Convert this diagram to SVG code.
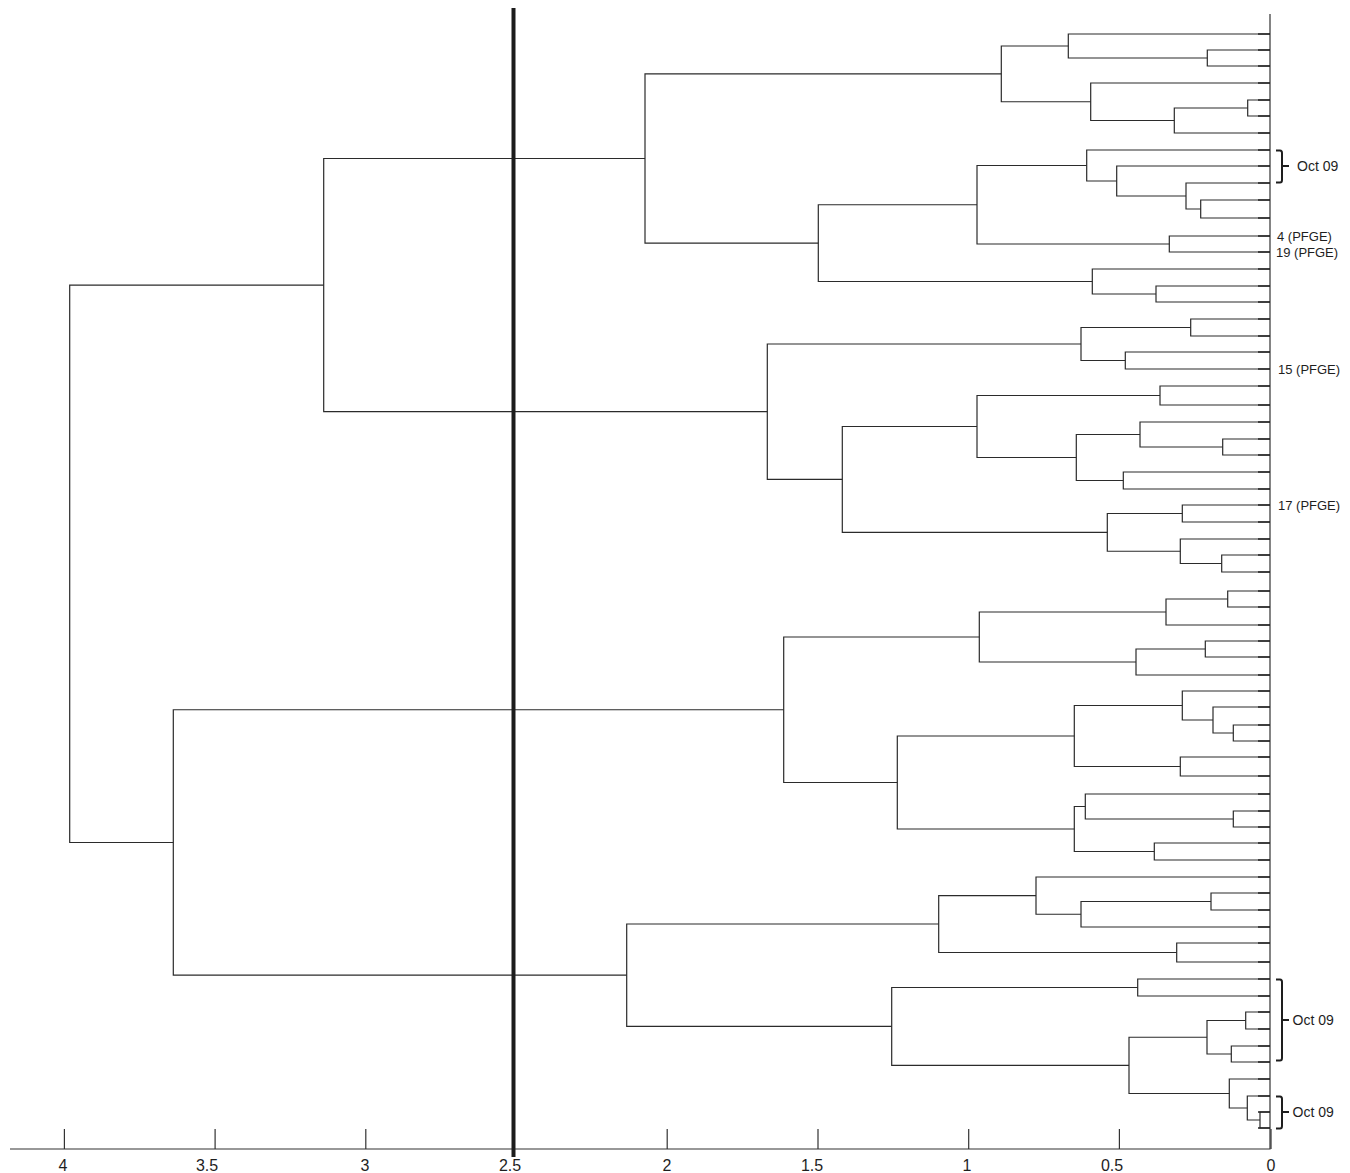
<svg xmlns="http://www.w3.org/2000/svg" width="1350" height="1173" viewBox="0 0 1350 1173">
<style>
.br{fill:none;stroke:#2b2b2b;stroke-width:1.2}
.ax{fill:none;stroke:#333;stroke-width:1.2}
.lt{fill:none;stroke:#222;stroke-width:1.6}
.brk{fill:none;stroke:#1e1e1e;stroke-width:2}
.lab{font-family:"Liberation Sans",Arial,sans-serif;font-size:13px;fill:#1e1e1e}
.oct{font-family:"Liberation Sans",Arial,sans-serif;font-size:14px;fill:#1e1e1e}
.tl{font-family:"Liberation Sans",Arial,sans-serif;font-size:16px;fill:#1e1e1e;text-anchor:middle}
</style>
<rect width="1350" height="1173" fill="#fff"/>
<g id="axis">
<path class="ax" d="M10,1149H1270V14"/>
<path class="ax" d="M64.4,1129V1149M215.1,1129V1149M365.8,1129V1149M667.2,1129V1149M818,1129V1149M968.7,1129V1149M1119.4,1129V1149M1271,1129V1149"/>
<text class="tl" x="63" y="1171">4</text>
<text class="tl" x="207" y="1171">3.5</text>
<text class="tl" x="365" y="1171">3</text>
<text class="tl" x="510" y="1171">2.5</text>
<text class="tl" x="667" y="1171">2</text>
<text class="tl" x="812" y="1171">1.5</text>
<text class="tl" x="967" y="1171">1</text>
<text class="tl" x="1112" y="1171">0.5</text>
<text class="tl" x="1271" y="1171">0</text>
</g>
<g id="connectors">
<path class="br" d="M1270,50H1207.3V66H1270"/>
<path class="br" d="M1270,34H1068.3V58H1207.3"/>
<path class="br" d="M1270,100H1247.7V116H1270"/>
<path class="br" d="M1247.7,108H1174.3V133H1270"/>
<path class="br" d="M1270,83H1090.7V120.5H1174.3"/>
<path class="br" d="M1068.3,46H1001.3V101.75H1090.7"/>
<path class="br" d="M1270,200H1200.7V218H1270"/>
<path class="br" d="M1270,183H1186V209H1200.7"/>
<path class="br" d="M1270,166H1116.7V196H1186"/>
<path class="br" d="M1270,150H1086.7V181H1116.7"/>
<path class="br" d="M1270,236H1169.3V252H1270"/>
<path class="br" d="M1086.7,165.5H977V244H1169.3"/>
<path class="br" d="M1270,286H1156V302H1270"/>
<path class="br" d="M1270,269H1092.3V294H1156"/>
<path class="br" d="M977,204.75H818.3V281.5H1092.3"/>
<path class="br" d="M1001.3,73.9H645V243.1H818.3"/>
<path class="br" d="M1270,319H1190.7V336H1270"/>
<path class="br" d="M1270,352H1125.3V369H1270"/>
<path class="br" d="M1190.7,327.5H1081V360.5H1125.3"/>
<path class="br" d="M1270,386H1160V405H1270"/>
<path class="br" d="M1270,439H1222.7V455H1270"/>
<path class="br" d="M1270,422H1140V447H1222.7"/>
<path class="br" d="M1270,472H1123.3V489H1270"/>
<path class="br" d="M1140,434.5H1076.3V480.5H1123.3"/>
<path class="br" d="M1160,395.5H977V457.5H1076.3"/>
<path class="br" d="M1270,505H1182.3V522H1270"/>
<path class="br" d="M1270,555H1221.7V572H1270"/>
<path class="br" d="M1270,539H1180.3V563.5H1221.7"/>
<path class="br" d="M1182.3,513.5H1107.3V551.25H1180.3"/>
<path class="br" d="M977,426.5H842.3V532.4H1107.3"/>
<path class="br" d="M1081,344H767.3V479.4H842.3"/>
<path class="br" d="M645,158.5H323.7V411.7H767.3"/>
<path class="br" d="M1270,591H1227.7V607H1270"/>
<path class="br" d="M1227.7,599H1166V625H1270"/>
<path class="br" d="M1270,641H1205.3V657H1270"/>
<path class="br" d="M1205.3,649H1136V675H1270"/>
<path class="br" d="M1166,612H979.3V662H1136"/>
<path class="br" d="M1270,725H1233.3V741H1270"/>
<path class="br" d="M1270,707H1213V733H1233.3"/>
<path class="br" d="M1270,691H1182.3V720H1213"/>
<path class="br" d="M1270,757H1180.3V776H1270"/>
<path class="br" d="M1182.3,705.5H1074.3V766.5H1180.3"/>
<path class="br" d="M1270,811H1233.3V827H1270"/>
<path class="br" d="M1270,794H1085.3V819H1233.3"/>
<path class="br" d="M1270,843H1154.3V860H1270"/>
<path class="br" d="M1085.3,806.5H1074.3V851.5H1154.3"/>
<path class="br" d="M1074.3,736H897.3V829H1074.3"/>
<path class="br" d="M979.3,637H783.7V782.5H897.3"/>
<path class="br" d="M1270,893H1211V910H1270"/>
<path class="br" d="M1211,901.5H1081V927H1270"/>
<path class="br" d="M1270,877H1036V914.25H1081"/>
<path class="br" d="M1270,943H1176.7V962H1270"/>
<path class="br" d="M1036,895.6H938.7V952.5H1176.7"/>
<path class="br" d="M1270,979H1137.7V996H1270"/>
<path class="br" d="M1270,1012H1245.7V1029H1270"/>
<path class="br" d="M1270,1046H1231.3V1062H1270"/>
<path class="br" d="M1245.7,1020.5H1207V1054H1231.3"/>
<path class="br" d="M1270,1112H1260V1128H1270"/>
<path class="br" d="M1270,1096H1247.3V1120H1260"/>
<path class="br" d="M1270,1079H1229.3V1108H1247.3"/>
<path class="br" d="M1207,1037.25H1129V1093.5H1229.3"/>
<path class="br" d="M1137.7,987.5H891.7V1065.4H1129"/>
<path class="br" d="M938.7,924H626.7V1026.4H891.7"/>
<path class="br" d="M783.7,709.75H173.3V975.2H626.7"/>
<path class="br" d="M323.7,285.1H69.7V842.5H173.3"/>
</g>
<g id="leaf-ticks">
<path class="lt" d="M1258,34H1270M1258,50H1270M1258,66H1270M1258,83H1270M1258,100H1270M1258,116H1270M1258,133H1270M1258,150H1270M1258,166H1270M1258,183H1270M1258,200H1270M1258,218H1270M1258,236H1270M1258,252H1270M1258,269H1270M1258,286H1270M1258,302H1270M1258,319H1270M1258,336H1270M1258,352H1270M1258,369H1270M1258,386H1270M1258,405H1270M1258,422H1270M1258,439H1270M1258,455H1270M1258,472H1270M1258,489H1270M1258,505H1270M1258,522H1270M1258,539H1270M1258,555H1270M1258,572H1270M1258,591H1270M1258,607H1270M1258,625H1270M1258,641H1270M1258,657H1270M1258,675H1270M1258,691H1270M1258,707H1270M1258,725H1270M1258,741H1270M1258,757H1270M1258,776H1270M1258,794H1270M1258,811H1270M1258,827H1270M1258,843H1270M1258,860H1270M1258,877H1270M1258,893H1270M1258,910H1270M1258,927H1270M1258,943H1270M1258,962H1270M1258,979H1270M1258,996H1270M1258,1012H1270M1258,1029H1270M1258,1046H1270M1258,1062H1270M1258,1079H1270M1258,1096H1270M1258,1112H1270M1258,1128H1270"/>
</g>
<g id="cutoff">
<line x1="513.5" y1="8" x2="513.5" y2="1157" stroke="#1c1c1c" stroke-width="4"/>
</g>
<g id="label-oct09-top">
<path class="brk" d="M1276,150.5H1280Q1282,150.5 1282,153V180Q1282,182.5 1280,182.5H1276M1282,166H1289"/>
<text class="oct" x="1297" y="171">Oct 09</text>
</g>
<g id="label-pfge-4"><text class="lab" x="1277" y="240.5">4 (PFGE)</text></g>
<g id="label-pfge-19"><text class="lab" x="1276" y="257">19 (PFGE)</text></g>
<g id="label-pfge-15"><text class="lab" x="1278" y="373.5">15 (PFGE)</text></g>
<g id="label-pfge-17"><text class="lab" x="1278" y="510">17 (PFGE)</text></g>
<g id="label-oct09-mid">
<path class="brk" d="M1276,979.5H1280Q1282,979.5 1282,982V1058Q1282,1060.5 1280,1060.5H1276M1282,1020H1289"/>
<text class="oct" x="1292.5" y="1025">Oct 09</text>
</g>
<g id="label-oct09-bottom">
<path class="brk" d="M1276,1096.5H1280Q1282,1096.5 1282,1099V1126Q1282,1128.5 1280,1128.5H1276M1282,1112H1289"/>
<text class="oct" x="1292.5" y="1117">Oct 09</text>
</g>
</svg>
